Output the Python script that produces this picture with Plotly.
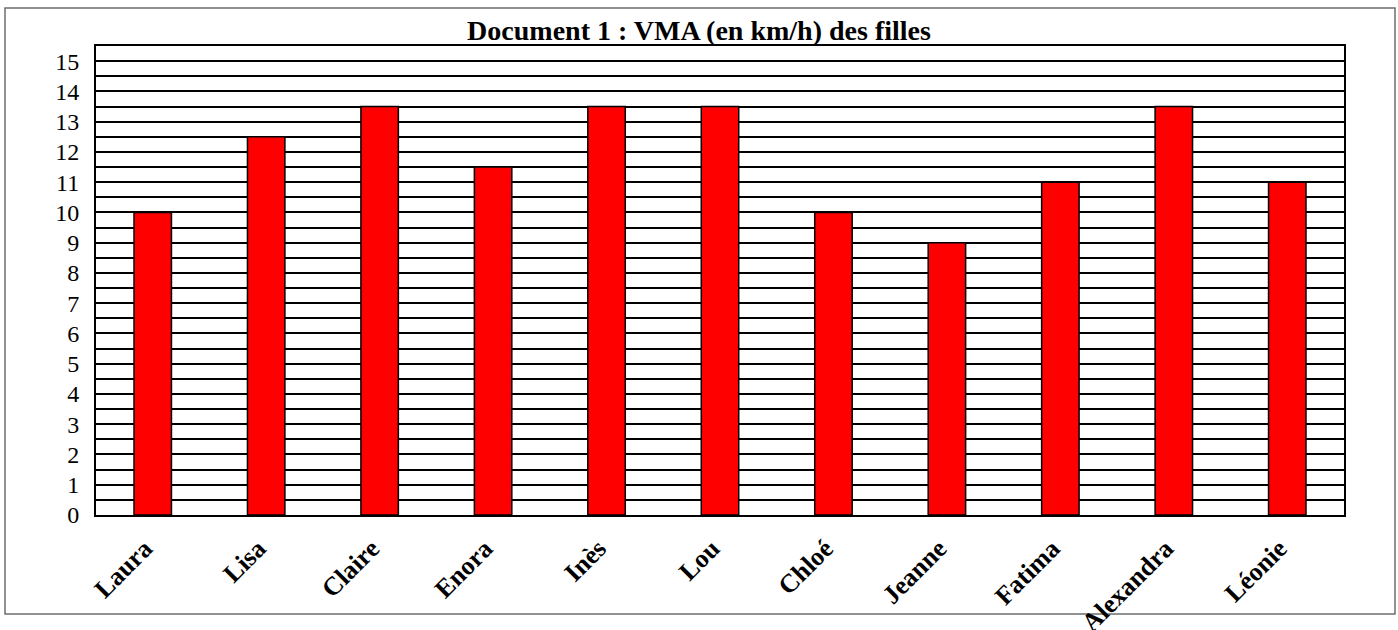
import plotly.graph_objects as go

names = ["Laura", "Lisa", "Claire", "Enora", "Inès", "Lou", "Chloé", "Jeanne", "Fatima", "Alexandra", "Léonie"]
vma = [10, 12.5, 13.5, 11.5, 13.5, 13.5, 10, 9, 11, 13.5, 11]
y_ticks = list(range(0, 16))

FONT = "Liberation Serif, DejaVu Serif, serif"

fig = go.Figure(go.Bar(
    x=names, y=vma, width=0.33,
    marker=dict(color="#ff0000", line=dict(color="black", width=1.5)),
))

fig.update_layout(
    width=1398, height=630,
    margin=dict(l=96, r=54, t=46, b=115, autoexpand=False),
    paper_bgcolor="white", plot_bgcolor="white",
    showlegend=False,
    font=dict(family=FONT, color="black"),
    title=dict(text="<b>Document 1 : VMA (en km/h) des filles</b>",
               x=0.5, xref="container", xanchor="center",
               y=1 - 30 / 630, yref="container", yanchor="middle",
               font=dict(family=FONT, size=28, color="black")),
)

fig.update_yaxes(
    range=[0, 15.5], tickvals=y_ticks, ticktext=[str(v) for v in y_ticks],
    showgrid=True, gridcolor="black", gridwidth=1.5,
    minor=dict(dtick=0.5, showgrid=True, gridcolor="black", gridwidth=1.5),
    showline=True, linecolor="black", linewidth=2, mirror=True,
    zeroline=False, ticks="", ticklabelstandoff=10, automargin=False,
    tickfont=dict(family=FONT, size=24, color="black"),
)
fig.update_xaxes(
    showline=True, linecolor="black", linewidth=2, mirror=True,
    showgrid=False, ticks="", tickangle=-45, ticklabelstandoff=6,
    ticklabelshift=-8, automargin=False,
    tickfont=dict(family=FONT, size=26, color="black"),
    categoryorder="array", categoryarray=names,
    tickvals=names, ticktext=["<b>" + n + "</b>" for n in names],
)

fig.add_shape(type="rect", xref="paper", yref="paper",
              x0=(5 - 96) / 1248, x1=(1395 - 96) / 1248,
              y0=(515 - 614) / 469, y1=(515 - 8) / 469,
              line=dict(color="#6e6e6e", width=1.5), layer="below")

fig.write_html("out.html", config={"displayModeBar": False},
               post_script="document.body.style.margin='0';")
